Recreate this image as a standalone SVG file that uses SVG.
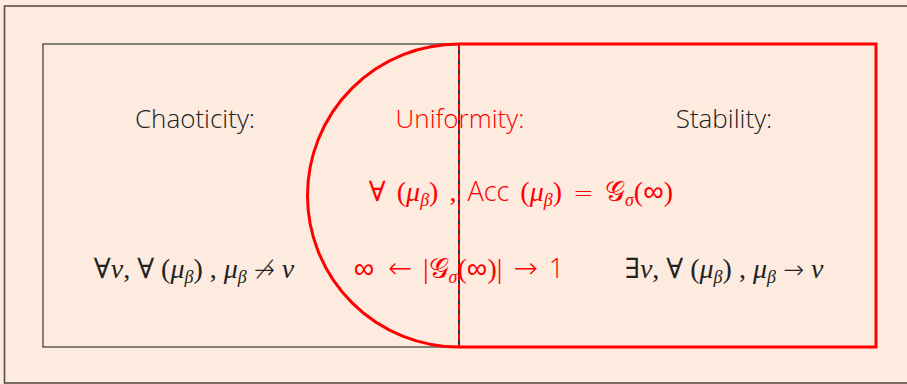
<svg xmlns="http://www.w3.org/2000/svg" width="907" height="384" viewBox="0 0 907 384">
<style>
.lbl{font-family:"Open Sans","Liberation Sans",sans-serif;font-size:26px;font-weight:300;text-anchor:middle}
.m{font-family:"Liberation Serif","DejaVu Serif",serif;font-size:28px;text-anchor:middle}
.i{font-style:italic}
.a{font-family:"DejaVu Sans",sans-serif;font-size:25px;font-weight:200}
.b{font-size:29px}
.s{font-family:"Open Sans","Liberation Sans",sans-serif;font-weight:300;font-size:27px}
.sub{font-size:18px}
.blk{fill:#222}
.red{fill:#ff0000}
.ws{word-spacing:4px}
</style>
<rect x="0" y="0" width="907" height="384" fill="#fdebdf"/>
<rect x="4.5" y="6" width="910" height="377" fill="none" stroke="#5a4e4a" stroke-width="1.6"/>
<g id="chaoticity">
<rect x="43" y="44" width="416" height="303" fill="none" stroke="#333" stroke-width="1.2"/>
<text class="lbl blk" x="195" y="128">Chaoticity:</text>
<text class="m blk" x="194" y="278">∀<tspan class="i">ν</tspan>, ∀ (<tspan class="i">μ</tspan><tspan class="i sub" dy="5">β</tspan><tspan dy="-5">) , </tspan><tspan class="i">μ</tspan><tspan class="i sub" dy="5">β</tspan><tspan dy="-5"> </tspan><tspan class="a">↛</tspan> <tspan class="i">ν</tspan></text>
</g>
<g id="stability">
<path d="M459 44 H876 V347 H459" fill="none" stroke="#ff0000" stroke-width="3"/>
<text class="lbl blk" x="724" y="128">Stability:</text>
<text class="m blk" x="724" y="278">∃<tspan class="i">ν</tspan>, ∀ (<tspan class="i">μ</tspan><tspan class="i sub" dy="5">β</tspan><tspan dy="-5">) , </tspan><tspan class="i">μ</tspan><tspan class="i sub" dy="5">β</tspan><tspan dy="-5"> </tspan><tspan class="a">→</tspan> <tspan class="i">ν</tspan></text>
</g>
<g id="uniformity">
<path d="M459 44 A151.5 151.5 0 0 0 459 347" fill="none" stroke="#ff0000" stroke-width="3"/>
<line x1="459" y1="44" x2="459" y2="347" stroke="#333" stroke-width="2"/>
<line x1="459" y1="44" x2="459" y2="347" stroke="#ff0000" stroke-width="2" stroke-dasharray="6 4"/>
<text class="lbl red" x="460" y="128">Uniformity:</text>
<text class="m red ws" x="521" y="201">∀ (<tspan class="i">μ</tspan><tspan class="i sub" dy="5">β</tspan><tspan dy="-5">) , </tspan><tspan class="s">Acc</tspan> (<tspan class="i">μ</tspan><tspan class="i sub" dy="5">β</tspan><tspan dy="-5">) </tspan><tspan class="a">=</tspan> 𝒢<tspan class="i sub" dy="5">σ</tspan><tspan dy="-5">(</tspan><tspan class="a b">∞</tspan>)</text>
<text class="m red ws" x="459" y="278"><tspan class="a b">∞ ←</tspan> |𝒢<tspan class="i sub" dy="5">σ</tspan><tspan dy="-5">(</tspan><tspan class="a b">∞</tspan>)| <tspan class="a b">→</tspan> <tspan class="s">1</tspan></text>
</g>
</svg>
